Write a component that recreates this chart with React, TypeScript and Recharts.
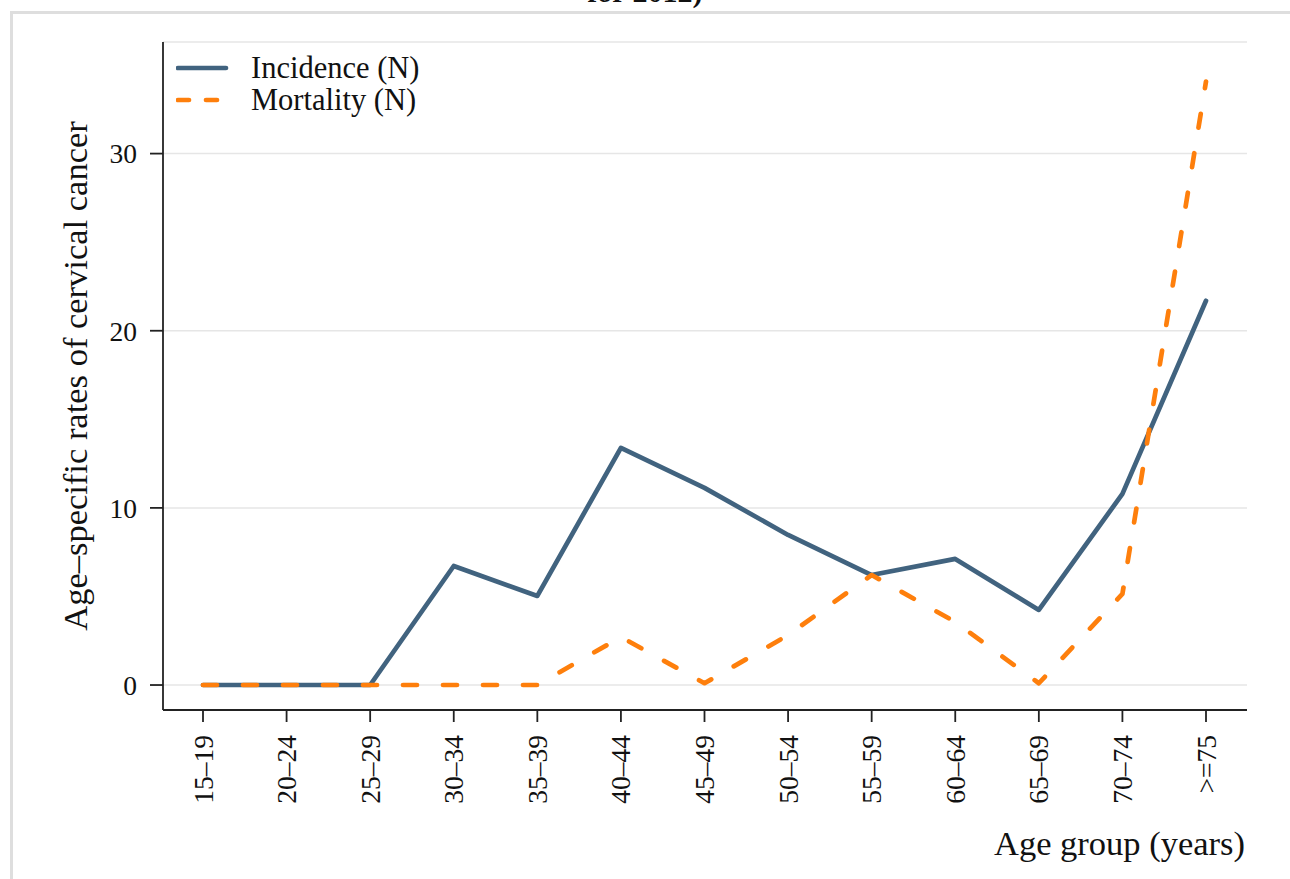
import React from 'react';
import { LineChart, Line, XAxis, YAxis, CartesianGrid } from 'recharts';

const ageGroups = ['15–19', '20–24', '25–29', '30–34', '35–39', '40–44', '45–49', '50–54', '55–59', '60–64', '65–69', '70–74', '>=75'];
const incidence = [0, 0, 0, 6.72, 5.03, 13.39, 11.13, 8.47, 6.21, 7.12, 4.24, 10.79, 21.69];
const mortality = [0, 0, 0, 0, 0, 2.71, 0.1, 2.82, 6.21, 3.56, 0.1, 5.14, 34.07];
const yTicks = [0, 10, 20, 30];

const data = ageGroups.map((age, i) => ({ age, incidence: incidence[i], mortality: mortality[i] }));

const series = [
  { key: 'incidence', name: 'Incidence (N)', color: '#41637f', dash: undefined },
  { key: 'mortality', name: 'Mortality (N)', color: '#fe7f0c', dash: '14 26' },
];

const FONT = '"Liberation Serif", "Times New Roman", serif';

const XTick = (props: any) => {
  const { x, y, payload } = props;
  return (
    <text
      x={x}
      y={y}
      transform={`rotate(-90 ${x} ${y})`}
      textAnchor="end"
      dominantBaseline="central"
      fontFamily={FONT}
      fontSize={27.5}
      fill="#111"
    >
      {payload.value}
    </text>
  );
};

const YLabel = () => (
  <text
    x={87}
    y={376}
    transform="rotate(-90 87 376)"
    textAnchor="middle"
    fontFamily={FONT}
    fontSize={34.5}
    fill="#111"
  >
    Age–specific rates of cervical cancer
  </text>
);

export default function App() {
  return (
    <div style={{ position: 'relative', width: 1290, height: 879, overflow: 'hidden', background: '#fff' }}>
      <style>{'body{margin:0}'}</style>
      <div
        style={{
          position: 'absolute',
          top: -25,
          left: 0,
          width: 1290,
          textAlign: 'center',
          fontFamily: FONT,
          fontSize: 30,
          fontWeight: 'bold',
          color: '#111',
        }}
      >
        for 2012)
      </div>
      <div
        style={{
          position: 'absolute',
          left: 10,
          top: 11,
          width: 1320,
          height: 900,
          border: '3px solid #dedede',
          boxSizing: 'border-box',
        }}
      />
      <div style={{ position: 'absolute', left: 0, top: 0 }}>
        <LineChart width={1290} height={879} data={data} margin={{ top: 42, right: 43, bottom: 0, left: 0 }}>
          <CartesianGrid vertical={false} stroke="#e6e6e6" strokeWidth={1.5} />
          <XAxis
            dataKey="age"
            height={169}
            padding={{ left: 40, right: 41 }}
            tickSize={12}
            tickMargin={13}
            tick={<XTick />}
            interval={0}
            stroke="#222"
            strokeWidth={1.8}
            label={{
              value: 'Age group (years)',
              position: 'insideBottomRight',
              offset: 0,
              dx: -2,
              dy: -24,
              fontFamily: FONT,
              fontSize: 34.5,
              fill: '#111',
            }}
          />
          <YAxis
            width={163}
            domain={[-1.41, 36.3]}
            ticks={yTicks}
            allowDataOverflow
            tickSize={13}
            tickMargin={13}
            stroke="#222"
            strokeWidth={1.8}
            tick={{ fontFamily: FONT, fontSize: 27.5, fill: '#111' }}
            label={<YLabel />}
          />
          {series.map((s) => (
            <Line
              key={s.key}
              type="linear"
              dataKey={s.key}
              name={s.name}
              stroke={s.color}
              strokeWidth={4.7}
              strokeDasharray={s.dash}
              strokeLinecap="round"
              strokeLinejoin="round"
              dot={false}
              activeDot={false}
              isAnimationActive={false}
            />
          ))}
        </LineChart>
      </div>
      <div style={{ position: 'absolute', left: 176, top: 52, fontFamily: FONT, fontSize: 30.5, color: '#111' }}>
        {series.map((s) => (
          <div key={s.key} style={{ display: 'flex', alignItems: 'center', height: 32 }}>
            <svg width={75} height={10} style={{ display: 'block' }}>
              <line
                x1={2}
                y1={5}
                x2={50}
                y2={5}
                stroke={s.color}
                strokeWidth={4.7}
                strokeLinecap="round"
                strokeDasharray={s.dash ? '11 17' : undefined}
              />
            </svg>
            <span style={{ lineHeight: '32px' }}>{s.name}</span>
          </div>
        ))}
      </div>
    </div>
  );
}
